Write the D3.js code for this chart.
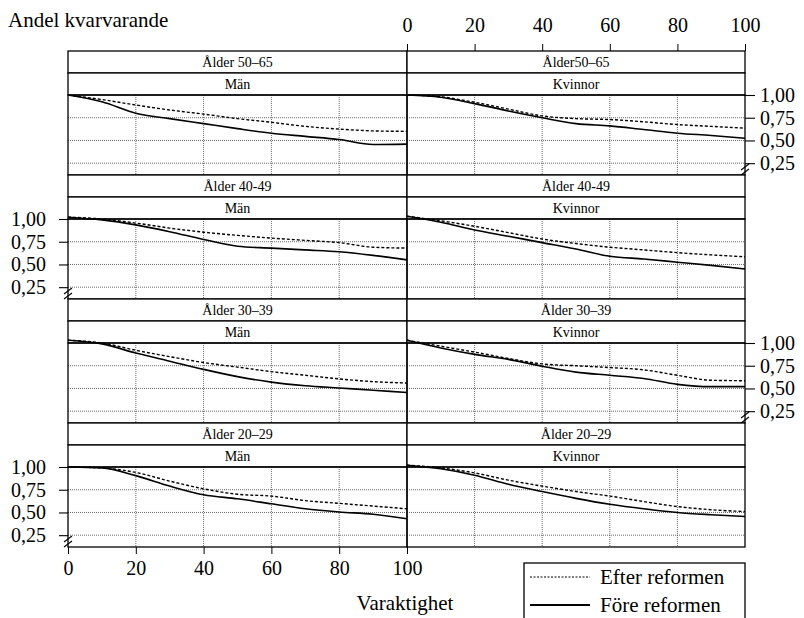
<!DOCTYPE html>
<html lang="sv">
<head>
<meta charset="UTF-8">
<title>Andel kvarvarande</title>
<script src="https://d3js.org/d3.v7.min.js"></script>
<style>
    body { margin: 0; background: #fff; }
    svg { display: block; }
    svg text { font-family: "Liberation Serif", "DejaVu Serif", serif; }
</style>
</head>
<body>
<svg id="chart" width="804" height="618"></svg>
<script>
// data
var varaktighet = [0, 10, 20, 30, 40, 50, 60, 70, 80, 90, 100];
var xTicks = [0, 20, 40, 60, 80, 100];
var yTicks = [0.25, 0.50, 0.75, 1.00];
var kon = ["Män", "Kvinnor"];
var aldersgrupper = [
    ["Ålder 50–65", "Ålder50–65"],
    ["Ålder 40-49", "Ålder 40-49"],
    ["Ålder 30–39", "Ålder 30–39"],
    ["Ålder 20–29", "Ålder 20–29"]
];

var man_50_fore  = [1.00, 0.925, 0.80, 0.74, 0.685, 0.63, 0.58, 0.545, 0.51, 0.455, 0.46];
var man_50_efter = [1.00, 0.95, 0.89, 0.835, 0.79, 0.74, 0.70, 0.655, 0.625, 0.605, 0.60];
var kv_50_fore   = [1.00, 0.975, 0.905, 0.825, 0.75, 0.685, 0.66, 0.62, 0.58, 0.555, 0.525];
var kv_50_efter  = [1.00, 0.98, 0.92, 0.845, 0.77, 0.74, 0.73, 0.705, 0.675, 0.655, 0.635];

var man_40_fore  = [1.02, 0.99, 0.935, 0.86, 0.775, 0.70, 0.68, 0.66, 0.64, 0.60, 0.55];
var man_40_efter = [1.02, 1.00, 0.955, 0.90, 0.855, 0.82, 0.79, 0.765, 0.74, 0.69, 0.68];
var kv_40_fore   = [1.03, 0.965, 0.88, 0.81, 0.74, 0.67, 0.59, 0.56, 0.525, 0.49, 0.45];
var kv_40_efter  = [1.03, 0.98, 0.92, 0.85, 0.78, 0.73, 0.69, 0.66, 0.63, 0.605, 0.585];

var man_30_fore  = [1.03, 0.99, 0.89, 0.80, 0.71, 0.63, 0.57, 0.53, 0.505, 0.48, 0.455];
var man_30_efter = [1.03, 1.00, 0.92, 0.85, 0.785, 0.735, 0.685, 0.645, 0.605, 0.575, 0.56];
var kv_30_fore   = [1.03, 0.945, 0.875, 0.82, 0.745, 0.68, 0.645, 0.61, 0.545, 0.52, 0.52];
var kv_30_efter  = [1.03, 0.965, 0.90, 0.83, 0.77, 0.75, 0.73, 0.705, 0.645, 0.59, 0.585];

var man_20_fore  = [1.00, 0.99, 0.905, 0.79, 0.695, 0.65, 0.595, 0.54, 0.505, 0.48, 0.43];
var man_20_efter = [1.00, 0.99, 0.94, 0.845, 0.76, 0.70, 0.68, 0.63, 0.60, 0.57, 0.54];
var kv_20_fore   = [1.02, 0.98, 0.91, 0.81, 0.73, 0.655, 0.59, 0.54, 0.50, 0.475, 0.455];
var kv_20_efter  = [1.02, 0.99, 0.935, 0.855, 0.79, 0.73, 0.68, 0.62, 0.565, 0.53, 0.51];

var efter = [[man_50_efter, kv_50_efter], [man_40_efter, kv_40_efter], [man_30_efter, kv_30_efter], [man_20_efter, kv_20_efter]];
var fore  = [[man_50_fore, kv_50_fore], [man_40_fore, kv_40_fore], [man_30_fore, kv_30_fore], [man_20_fore, kv_20_fore]];

async function program() {
    var svg = d3.select('#chart');

    // layout
    var colX = [[68, 407], [407, 745]];
    var firstTop = 51, rowStep = 124, stripH = 22, panelH = 80;
    var serif = '"Liberation Serif", "DejaVu Serif", serif';

    var sv = d3.formatLocale({decimal: ",", thousands: " ", grouping: [3], currency: ["", " kr"]});
    var fmt = sv.format(".2f");

    var xScales = colX.map(function(c) {
        return d3.scaleLinear().domain([0, 100]).range(c);
    });

    function rowTop(r) { return firstTop + r * rowStep; }
    function yScale(r) {
        var top = rowTop(r) + 2 * stripH;
        return d3.scaleLinear().domain([0.12, 1]).range([top + panelH, top]);
    }

    var line = function(x, y) {
        return d3.line()
            .x(function(d) { return x(d[0]); })
            .y(function(d) { return y(d[1]); })
            .curve(d3.curveMonotoneX);
    };

    for (var r = 0; r < 4; r++) {
        var y = yScale(r);
        var t = rowTop(r);
        for (var c = 0; c < 2; c++) {
            var x = xScales[c];
            var g = svg.append('g');

            // grid
            g.selectAll('.hg').data([0.25, 0.5, 0.75]).join('line')
                .attr('x1', x(0)).attr('x2', x(100))
                .attr('y1', function(d) { return y(d); }).attr('y2', function(d) { return y(d); })
                .attr('stroke', '#444').attr('stroke-width', 0.8).attr('stroke-dasharray', '1,1');
            g.selectAll('.vg').data([20, 40, 60, 80]).join('line')
                .attr('x1', function(d) { return x(d); }).attr('x2', function(d) { return x(d); })
                .attr('y1', y(1)).attr('y2', y(0.12))
                .attr('stroke', '#444').attr('stroke-width', 0.8).attr('stroke-dasharray', '1,1');

            // strips
            var labels = [aldersgrupper[r][c], kon[c]];
            labels.forEach(function(lab, i) {
                g.append('rect')
                    .attr('x', x(0)).attr('y', t + i * stripH)
                    .attr('width', x(100) - x(0)).attr('height', stripH)
                    .attr('fill', 'white').attr('stroke', 'black').attr('stroke-width', 1.3);
                g.append('text')
                    .attr('x', (x(0) + x(100)) / 2).attr('y', t + i * stripH + stripH / 2)
                    .attr('dy', '0.35em').attr('text-anchor', 'middle')
                    .attr('font-size', 14)
                    .text(lab);
            });

            // panel border
            g.append('rect')
                .attr('x', x(0)).attr('y', y(1))
                .attr('width', x(100) - x(0)).attr('height', panelH)
                .attr('fill', 'none').attr('stroke', 'black').attr('stroke-width', 1.3);

            // curves
            var pe = varaktighet.map(function(v, i) { return [v, efter[r][c][i]]; });
            var pf = varaktighet.map(function(v, i) { return [v, fore[r][c][i]]; });
            g.append('path').attr('d', line(x, y)(pe))
                .attr('fill', 'none').attr('stroke', 'black')
                .attr('stroke-width', 1.4).attr('stroke-dasharray', '3,2');
            g.append('path').attr('d', line(x, y)(pf))
                .attr('fill', 'none').attr('stroke', 'black')
                .attr('stroke-width', 1.6);
        }

        // y axes alternate sides
        var yAxis;
        var axX;
        if (r % 2 === 0) {
            yAxis = d3.axisRight(y).tickValues(yTicks).tickFormat(fmt).tickSize(10).tickPadding(5);
            axX = 745;
        } else {
            yAxis = d3.axisLeft(y).tickValues(yTicks).tickFormat(fmt).tickSize(9).tickPadding(13);
            axX = 68;
        }
        var ga = svg.append('g').attr('transform', 'translate(' + axX + ',0)').call(yAxis);
        ga.attr('font-family', serif);
        ga.select('.domain').remove();
        ga.selectAll('text').attr('font-size', 20);
        ga.selectAll('line').attr('stroke-width', 1.1);

        // axis break marks
        var yb = y(0.12) - 8;
        [0, 5].forEach(function(off) {
            svg.append('line')
                .attr('x1', axX - 4).attr('y1', yb + off + 3)
                .attr('x2', axX + 4).attr('y2', yb + off - 3)
                .attr('stroke', 'black').attr('stroke-width', 1.1);
        });
    }

    // top x axis over right column
    var gt = svg.append('g').attr('transform', 'translate(0,' + firstTop + ')')
        .call(d3.axisTop(xScales[1]).tickValues(xTicks).tickSize(7).tickPadding(12));
    gt.attr('font-family', serif);
    gt.select('.domain').remove();
    gt.selectAll('text').attr('font-size', 20);

    // bottom x axis under left column
    var bottom = yScale(3)(0.12);
    var gb = svg.append('g').attr('transform', 'translate(0,' + bottom + ')')
        .call(d3.axisBottom(xScales[0]).tickValues(xTicks).tickSize(7).tickPadding(7));
    gb.attr('font-family', serif);
    gb.select('.domain').remove();
    gb.selectAll('text').attr('font-size', 20);

    // titles
    svg.append('text').attr('x', 8).attr('y', 27)
        .attr('font-size', 21).text('Andel kvarvarande');
    svg.append('text').attr('x', 405).attr('y', 610)
        .attr('text-anchor', 'middle').attr('font-size', 21).text('Varaktighet');

    // legend
    var lg = svg.append('g');
    lg.append('rect').attr('x', 524).attr('y', 563).attr('width', 221).attr('height', 70)
        .attr('fill', 'white').attr('stroke', 'black').attr('stroke-width', 1.3);
    var leg = [
        {name: 'Efter reformen', dash: '2,1.5', w: 1},
        {name: 'Före reformen', dash: null, w: 1.8}
    ];
    leg.forEach(function(d, i) {
        var yy = 577 + i * 28;
        lg.append('line').attr('x1', 530).attr('x2', 590).attr('y1', yy).attr('y2', yy)
            .attr('stroke', 'black').attr('stroke-width', d.w)
            .attr('stroke-dasharray', d.dash);
        lg.append('text').attr('x', 600).attr('y', yy).attr('dy', '0.35em')
            .attr('font-size', 21).text(d.name);
    });
}

program();
</script>
</body>
</html>
